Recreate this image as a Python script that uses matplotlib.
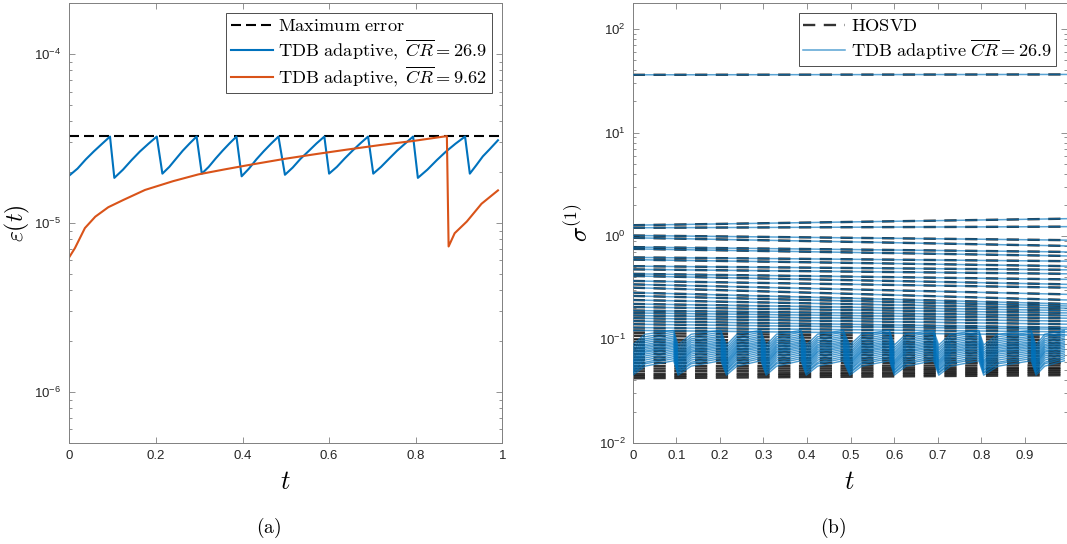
import matplotlib.pyplot as plt
import numpy as np

plt.rcParams['font.family'] = 'Liberation Sans'
plt.rcParams['mathtext.fontset'] = 'cm'

BLUE = '#0072BD'
ORANGE = '#D95319'

# ---- panel (a): error history ----
max_error = 3.27e-5
blue_t = [0.000, 0.019, 0.038, 0.057, 0.076, 0.094,
          0.104, 0.124, 0.144, 0.163, 0.183, 0.202,
          0.215, 0.231, 0.247, 0.262, 0.278, 0.294,
          0.306, 0.322, 0.338, 0.354, 0.370, 0.386,
          0.398, 0.415, 0.432, 0.449, 0.466, 0.483,
          0.498, 0.516, 0.534, 0.553, 0.571, 0.589,
          0.600, 0.618, 0.636, 0.654, 0.672, 0.690,
          0.702, 0.720, 0.739, 0.757, 0.776, 0.794,
          0.805, 0.827, 0.849, 0.870, 0.892, 0.914,
          0.925, 0.940, 0.955, 0.970, 0.990]
blue_err = [1.91, 2.10, 2.38, 2.66, 2.95, 3.25,
            1.85, 2.07, 2.36, 2.65, 2.95, 3.25,
            1.96, 2.15, 2.41, 2.68, 2.96, 3.25,
            1.96, 2.15, 2.41, 2.68, 2.96, 3.25,
            1.89, 2.10, 2.38, 2.66, 2.95, 3.25,
            1.93, 2.13, 2.40, 2.67, 2.96, 3.25,
            1.96, 2.15, 2.41, 2.68, 2.96, 3.25,
            1.96, 2.15, 2.41, 2.68, 2.96, 3.25,
            1.85, 2.07, 2.36, 2.65, 2.95, 3.25,
            1.96, 2.20, 2.48, 2.72, 3.09]  # x 1e-5
orange_t = [0.0, 0.013, 0.036, 0.06, 0.09, 0.125, 0.175, 0.24, 0.298, 0.36,
            0.421, 0.498, 0.57, 0.641, 0.72, 0.794, 0.872, 0.876, 0.89, 0.918,
            0.952, 0.99]
orange_err = [0.628, 0.71, 0.933, 1.09, 1.24, 1.37, 1.57, 1.77, 1.94, 2.08,
              2.22, 2.40, 2.56, 2.72, 2.90, 3.06, 3.27, 0.726, 0.87, 1.02,
              1.30, 1.56]  # x 1e-5

# ---- panel (b): mode-1 singular values ----
hosvd_start = [36.2, 1.27, 1.20, 1.01, 0.96, 0.78, 0.75, 0.62, 0.59, 0.51,
               0.475, 0.43, 0.41, 0.367, 0.34, 0.316, 0.283, 0.263, 0.24, 0.22,
               0.205, 0.19, 0.18, 0.17, 0.16, 0.15, 0.14, 0.13, 0.122, 0.115,
               0.108, 0.10, 0.094, 0.088, 0.082, 0.077, 0.072, 0.067, 0.063,
               0.059, 0.055, 0.052, 0.049, 0.046, 0.044, 0.042]
hosvd_end = [36.5, 1.47, 1.23, 0.91, 0.80, 0.70, 0.64, 0.57, 0.51, 0.47,
             0.43, 0.38, 0.34, 0.316, 0.272, 0.24, 0.22, 0.21, 0.20, 0.19,
             0.18, 0.17, 0.16, 0.15, 0.14, 0.13, 0.125, 0.118, 0.11, 0.104,
             0.098, 0.092, 0.087, 0.082, 0.077, 0.073, 0.069, 0.065, 0.062,
             0.059, 0.056, 0.053, 0.051, 0.049, 0.047, 0.045]
n_tracked = 29  # TDB modes that follow the HOSVD closely

tooth_start = [0.0, 0.104, 0.215, 0.306, 0.398, 0.498, 0.600, 0.702, 0.805, 0.925]
tooth_mid = [0.028, 0.134, 0.239, 0.330, 0.424, 0.525, 0.627, 0.729, 0.838, 0.945]
tooth_end = [0.094, 0.202, 0.294, 0.386, 0.483, 0.589, 0.690, 0.794, 0.914, 0.990]
fan_low = [0.088, 0.083, 0.079, 0.075, 0.072, 0.069, 0.066, 0.063, 0.061, 0.059,
           0.057, 0.055, 0.053, 0.051, 0.050, 0.048, 0.047, 0.045]
fan_mid = [0.112, 0.106, 0.101, 0.097, 0.093, 0.089, 0.086, 0.083, 0.080, 0.077,
           0.075, 0.072, 0.069, 0.066, 0.063, 0.060, 0.058, 0.055]
fan_high = [0.122, 0.117, 0.112, 0.107, 0.103, 0.099, 0.095, 0.092, 0.089, 0.086,
            0.083, 0.080, 0.077, 0.074, 0.071, 0.068, 0.065, 0.062]

xt_a = [0, 0.2, 0.4, 0.6, 0.8, 1]
xl_a = ['0', '0.2', '0.4', '0.6', '0.8', '1']
xt_b = [0, 0.1, 0.2, 0.3, 0.4, 0.5, 0.6, 0.7, 0.8, 0.9]
xl_b = ['0', '0.1', '0.2', '0.3', '0.4', '0.5', '0.6', '0.7', '0.8', '0.9']


def style(ax, pad):
    ax.set_yscale('log')
    ax.tick_params(which='both', direction='in', top=True, right=True,
                   color='#808080', labelcolor='#262626', labelsize=9.5, width=0.6)
    ax.tick_params(which='major', length=4.5)
    ax.tick_params(which='minor', length=2.5)
    ax.tick_params(axis='y', which='both', pad=pad)
    ax.tick_params(axis='x', which='both', pad=5)
    ax.yaxis.set_minor_formatter(plt.NullFormatter())
    for s in ax.spines.values():
        s.set_color('#808080')
        s.set_linewidth(0.7)


def legend(ax):
    leg = ax.legend(loc='upper right', fontsize=13.2, fancybox=False, edgecolor='#4d4d4d',
                    framealpha=1, handlelength=2.3, handletextpad=0.3,
                    borderaxespad=0.55, borderpad=0.25, labelspacing=0.12)
    leg.get_frame().set_linewidth(0.7)


fig = plt.figure(figsize=(10.67, 5.44), dpi=100)
W, H = 1067, 544
ax1 = fig.add_axes([69.3 / W, (H - 442.7) / H, 433 / W, 439.4 / H])
ax2 = fig.add_axes([632.7 / W, (H - 442.7) / H, 433.8 / W, 439.4 / H])

# (a)
ax1.plot([0, 1], [max_error, max_error], color='k', lw=1.5, dashes=(4.8, 2.4),
         label=r'$\mathrm{Maximum\ error}$')
ax1.plot(blue_t, np.array(blue_err) * 1e-5, color=BLUE, lw=1.5,
         label=r'$\mathrm{TDB\ adaptive,}\ \overline{CR}=26.9$')
ax1.plot(orange_t, np.array(orange_err) * 1e-5, color=ORANGE, lw=1.5,
         label=r'$\mathrm{TDB\ adaptive,}\ \overline{CR}=9.62$')
style(ax1, 6)
ax1.set_xlim(0, 1)
ax1.set_ylim(5e-7, 2e-4)
ax1.set_xticks(xt_a, xl_a)
ax1.set_xlabel(r'$t$', fontsize=19)
ax1.set_ylabel(r'$\varepsilon(t)$', fontsize=17)
ax1.xaxis.set_label_coords(0.5, -27 / 439.4)
ax1.yaxis.set_label_coords(-37 / 433, 0.5)
legend(ax1)

# (b)
for i in range(len(hosvd_start)):
    ax2.plot([0, 1], [hosvd_start[i], hosvd_end[i]], color='k', lw=1.7, alpha=0.8,
             dashes=(5.2, 3.6), label=r'$\mathrm{HOSVD}$' if i == 0 else None, zorder=2)
for i in range(n_tracked):
    ax2.plot([0, 1], [hosvd_start[i], hosvd_end[i]], color=BLUE, lw=1.1, alpha=0.65,
             label=r'$\mathrm{TDB\ adaptive}\ \overline{CR}=26.9$' if i == 0 else None,
             zorder=3)
for k in range(len(fan_low)):
    ts, vs = [], []
    for j in range(len(tooth_start)):
        ts += [tooth_start[j], tooth_mid[j], tooth_end[j]]
        vs += [fan_low[k], fan_mid[k], fan_high[k]]
    ax2.plot(ts, vs, color=BLUE, lw=1.0, alpha=0.7, zorder=3)
style(ax2, 5)
ax2.set_xlim(0, 0.995)
ax2.set_ylim(1e-2, 178)
ax2.set_xticks(xt_b, xl_b)
ax2.set_xlabel(r'$t$', fontsize=19)
ax2.set_ylabel(r'$\sigma^{(1)}$', fontsize=18)
ax2.xaxis.set_label_coords(0.5, -27 / 439.4)
ax2.yaxis.set_label_coords(-40 / 436, 0.5)
legend(ax2)

fig.text(268.7 / W, 1 - 528 / H, r'$\mathrm{(a)}$', ha='center', va='center', fontsize=14)
fig.text(833 / W, 1 - 528 / H, r'$\mathrm{(b)}$', ha='center', va='center', fontsize=14)

fig.savefig('out.png', dpi=100)
